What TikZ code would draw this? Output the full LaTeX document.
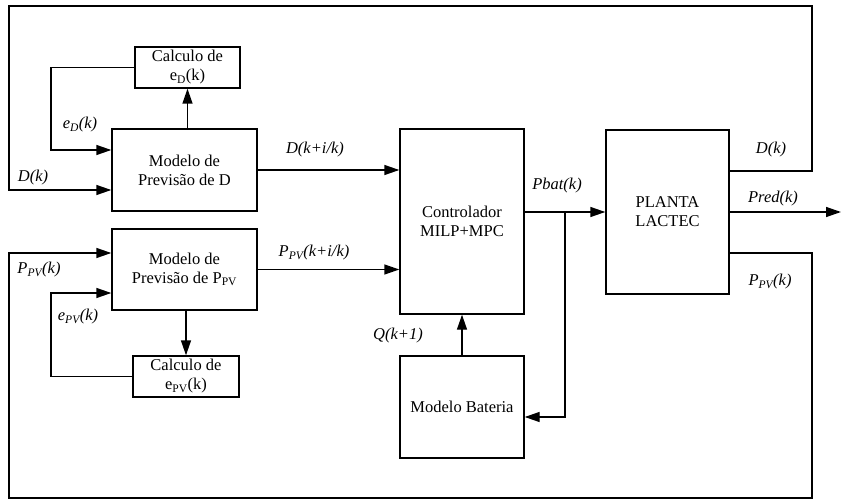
\documentclass[tikz,border=0pt]{standalone}
\usepackage{fontspec}
\setmainfont{Liberation Serif}
\usetikzlibrary{arrows.meta}
\begin{document}
\begin{tikzpicture}[x=1pt,y=-1pt,
  every node/.style={font=\fontsize{16.5}{19}\selectfont},
  blk/.style={draw,line width=1.4pt,align=center,inner sep=0pt},
  wire/.style={line width=1.4pt},
  arr/.style={wire,-{Triangle[length=15pt,width=10pt]}},
  lbl/.style={inner sep=0pt}]
\useasboundingbox (0,0) rectangle (841,500);

% blocks
\node[blk,minimum width=145pt,minimum height=82pt] (modD) at (184.5,170) {Modelo de\\Previsão de D};
\node[blk,minimum width=105pt,minimum height=41pt] (calD) at (187.5,67.5) {Calculo de\\e\textsubscript{D}(k)};
\node[blk,minimum width=145pt,minimum height=81pt] (modP) at (184.5,269.5) {Modelo de\\Previsão de P\textsubscript{PV}};
\node[blk,minimum width=106pt,minimum height=41pt] (calP) at (186,376.5) {Calculo de\\e\textsubscript{PV}(k)};
\node[blk,minimum width=124pt,minimum height=185pt] (ctrl) at (462,221.5) {Controlador\\MILP+MPC};
\node[blk,minimum width=124pt,minimum height=102pt] (bat) at (462,407) {Modelo Bateria};
\node[blk,minimum width=123pt,minimum height=164pt] (plant) at (667.5,212) {PLANTA\\LACTEC};

% corner points of the feedback loops
\coordinate (tr) at (812,6);
\coordinate (tl) at (9,190);
\coordinate (br) at (812,498);
\coordinate (bl) at (9,253);
\coordinate (lx) at (51,0);
\coordinate (tap) at (565,212);
\coordinate (out) at (841,212);

% forecast error loops
\draw[arr] (modD.north -| calD.south) -- (calD.south);
\draw[arr] (calD.west) -- (calD.west -| lx) |- ([yshift=20pt]modD.west);
\draw[arr] (modP.south -| calP.north) -- (calP.north);
\draw[arr] (calP.west) -- (calP.west -| lx) |- ([yshift=-23.5pt]modP.west);

% measured signals fed back from the plant
\draw[arr] ([yshift=41pt]plant.east) -| (tr) -| (tl) -- (tl -| modD.west);
\draw[arr] ([yshift=-41pt]plant.east) -| (br) -| (bl) -- (bl -| modP.west);

% forecasts into the controller
\draw[arr] (modD.east) -- (modD.east -| ctrl.west);
\draw[arr] (modP.east) -- (modP.east -| ctrl.west);

% controller output and battery model
\draw[arr] (plant.west -| ctrl.east) -- (plant.west);
\draw[arr] (tap) |- ([yshift=-10pt]bat.east);
\draw[arr] (bat.north) -- (ctrl.south);
\draw[arr] (plant.east) -- (out);

% signal labels
\node[lbl] (leD) at (80,125) {\textit{e\textsubscript{D}(k)}};
\node[lbl] (lD) at (33,178) {\textit{D(k)}};
\node[lbl] (lDf) at (315,150) {\textit{D(k+i/k)}};
\node[lbl] (lPf) at (314,253) {\textit{P\textsubscript{PV}(k+i/k)}};
\node[lbl] (lP) at (39,270) {\textit{P\textsubscript{PV}(k)}};
\node[lbl] (leP) at (78,317) {\textit{e\textsubscript{PV}(k)}};
\node[lbl] (lQ) at (398,336) {\textit{Q(k+1)}};
\node[lbl] (lPb) at (557,186) {\textit{Pbat(k)}};
\node[lbl] (lDo) at (771,150) {\textit{D(k)}};
\node[lbl] (lPr) at (773,199) {\textit{Pred(k)}};
\node[lbl] (lPo) at (770,282) {\textit{P\textsubscript{PV}(k)}};
\end{tikzpicture}
\end{document}
